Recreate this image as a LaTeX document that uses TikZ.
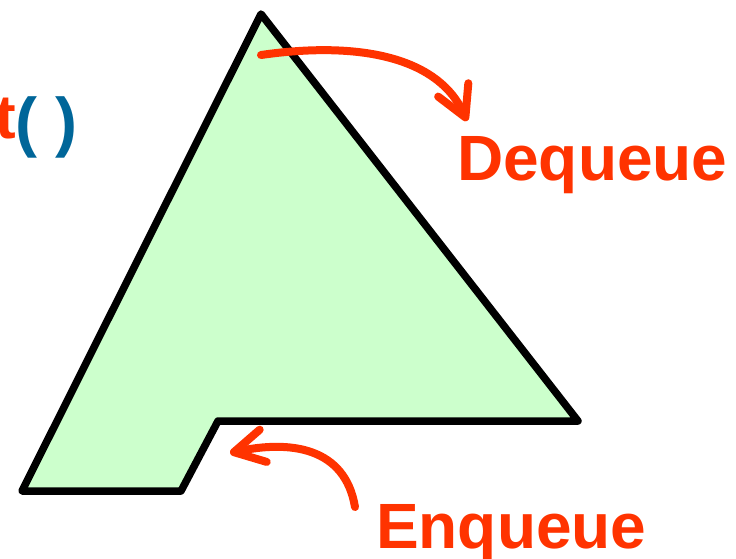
\documentclass[tikz,border=0pt]{standalone}
\usepackage{fontspec}
\setmainfont{Liberation Sans}
\usetikzlibrary{arrows.meta}
\definecolor{qred}{HTML}{FF3300}
\definecolor{qblue}{HTML}{006699}
\definecolor{qgreen}{HTML}{CCFFCC}
\begin{document}
\begin{tikzpicture}[x=1pt,y=-1pt,
  lbl/.style={inner sep=0pt, font=\bfseries\fontsize{64}{70}\selectfont, text=qred},
  flow/.style={draw=qred, line width=8pt, line cap=round,
    -{Straight Barb[length=30pt,width=33pt,line cap=round,line join=round]}},
  outline/.style={draw=black, line width=7.5pt, line join=round, fill=qgreen}]
\useasboundingbox (0,0) rectangle (736,559);
% queue outline
\coordinate (v1) at (261,14);
\coordinate (v2) at (578,421);
\coordinate (v3) at (218,421);
\coordinate (v4) at (181,491);
\coordinate (v5) at (22,491);
\draw[outline] (v1) -- (v2) -- (v3) -- (v4) -- (v5) -- cycle;
% labels
\node[lbl, anchor=base west] (deq) at (457,180) {Dequeue};
\node[lbl, anchor=base west] (enq) at (376,548) {Enqueue};
\node[inner sep=0pt, anchor=base east, text=qred, font=\bfseries\fontsize{62}{68}\selectfont] (tt) at (16,139) {t};
\node[inner sep=0pt, anchor=base west, text=qblue, font=\bfseries\fontsize{66}{72}\selectfont] (par) at (15,144) {( )};
% arrows
\coordinate (ds) at (261,55);
\coordinate (dt) at (467,121);
\coordinate (es) at (355,507);
\coordinate (et) at (230,453);
\draw[flow] (ds) .. controls (365,40) and (440,60) .. (dt);
\draw[flow] (es) .. controls (345,447) and (290,440) .. (et);
\end{tikzpicture}
\end{document}
